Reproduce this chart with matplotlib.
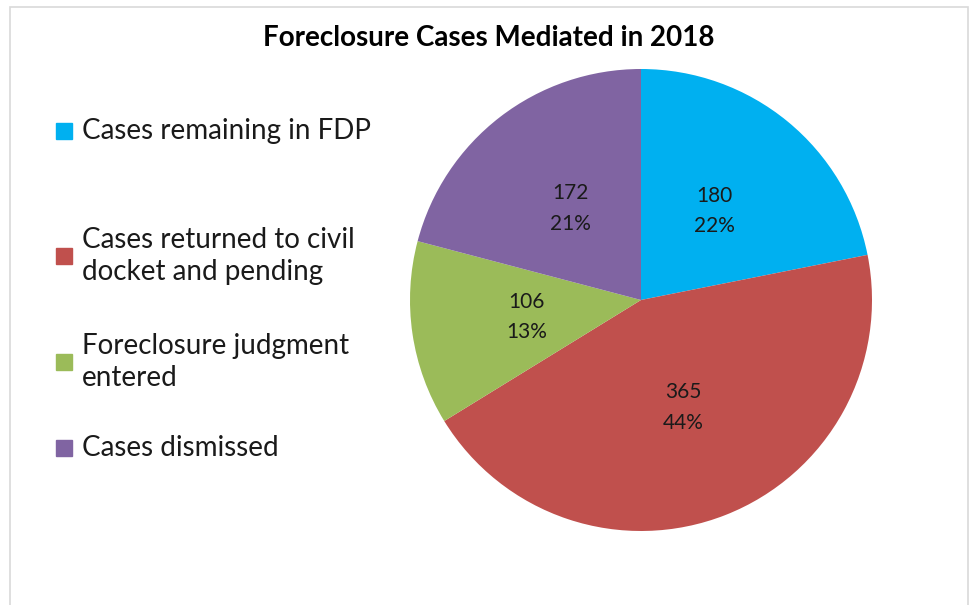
import matplotlib.pyplot as plt
from matplotlib.patches import Rectangle

categories = ["Cases remaining in FDP",
              "Cases returned to civil\ndocket and pending",
              "Foreclosure judgment\nentered",
              "Cases dismissed"]
counts = [180, 365, 106, 172]
colors = ["#00B0F0", "#C0504D", "#9BBB59", "#8064A2"]

plt.rcParams['font.family'] = ['Lato', 'DejaVu Sans']

W, H = 973, 605
fig = plt.figure(figsize=(W / 100, H / 100), dpi=100)

# chart border
fig.patches.append(Rectangle((10 / W, -0.1), 958 / W, 1.1 - 7 / H,
                             transform=fig.transFigure, fill=False,
                             edgecolor="#d9d9d9", linewidth=1.2))

fig.text(489 / W, 1 - 38 / H, "Foreclosure Cases Mediated in 2018",
         ha="center", va="center", fontsize=20, fontweight="bold")

total = sum(counts)


def label(pct):
    n = int(round(pct * total / 100))
    return f"{n}\n{pct:.0f}%"


cx, cy, r = 641, 300, 231
ax = fig.add_axes([(cx - r) / W, (H - cy - r) / H, 2 * r / W, 2 * r / H])
wedges, texts, autotexts = ax.pie(counts, colors=colors, startangle=90,
                                  counterclock=False, autopct=label,
                                  pctdistance=0.5,
                                  textprops=dict(fontsize=15, color="#1a1a1a",
                                                 linespacing=1.65))
ax.set_xlim(-1, 1)
ax.set_ylim(-1, 1)

# legend on the left
leg_y = [131, 256, 362, 448]
for name, col, y in zip(categories, colors, leg_y):
    fig.patches.append(Rectangle((56 / W, 1 - (y + 8) / H), 16 / W, 16 / H,
                                 transform=fig.transFigure, color=col))
    fig.text(82 / W, 1 - y / H, name, ha="left", va="center",
             fontsize=20, color="#1a1a1a", linespacing=1.32)

fig.savefig("out.png", dpi=100)
